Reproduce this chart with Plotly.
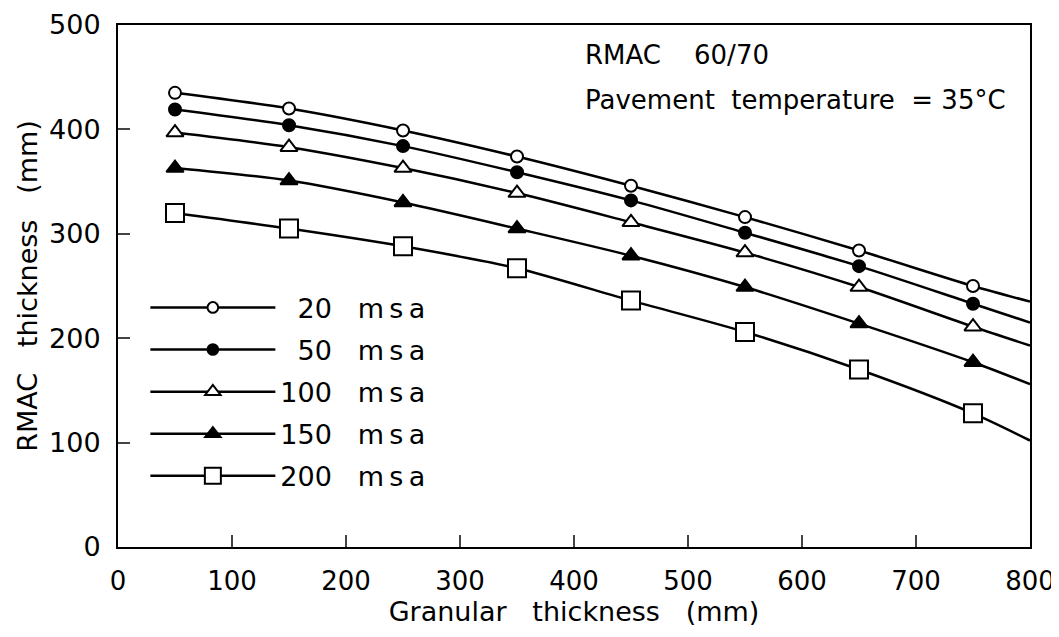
import plotly.graph_objects as go

# Granular thickness (mm) at marked points, plus curve end at 800
granular = [50, 150, 250, 350, 450, 550, 650, 750, 800]

rmac_20 = [435, 420, 399, 374, 346, 316, 284, 250, 235]
rmac_50 = [419, 404, 384, 359, 332, 301, 269, 233, 215]
rmac_100 = [397, 383, 363, 339, 311, 282, 249, 211, 193]
rmac_150 = [363, 351, 330, 305, 279, 249, 214, 177, 156]
rmac_200 = [320, 305, 288, 267, 236, 206, 170, 128, 102]

series_names = ["\u200720   m\u2009s\u2009a", "\u200750   m\u2009s\u2009a",
                "100   m\u2009s\u2009a", "150   m\u2009s\u2009a", "200   m\u2009s\u2009a"]
series_values = [rmac_20, rmac_50, rmac_100, rmac_150, rmac_200]
symbols = ["circle", "circle", "triangle-up", "triangle-up", "square"]
fills = ["white", "black", "white", "black", "white"]
sizes = [12, 12, 15, 15, 18]

x_ticks = [0, 100, 200, 300, 400, 500, 600, 700, 800]
y_ticks = [0, 100, 200, 300, 400, 500]

FONT = "DejaVu Sans"

fig = go.Figure()
for name, vals, sym, fill, sz in zip(series_names, series_values, symbols, fills, sizes):
    n = len(vals)
    fig.add_trace(go.Scatter(
        x=granular, y=vals, name=name, legendgroup=name,
        mode="lines+markers",
        line=dict(color="black", width=2.5, shape="spline", smoothing=0.8),
        marker=dict(symbol=sym, color=fill, size=[sz] * (n - 1) + [0], opacity=1,
                    line=dict(color="black", width=2)),
    ))

fig.add_annotation(x=0.51, y=0.942, xref="paper", yref="paper", xanchor="left",
                   yanchor="middle", showarrow=False, text="RMAC    60/70",
                   font=dict(family=FONT, size=26, color="black"))
fig.add_annotation(x=0.51, y=0.856, xref="paper", yref="paper", xanchor="left",
                   yanchor="middle", showarrow=False,
                   text="Pavement  temperature  = 35°C",
                   font=dict(family=FONT, size=26, color="black"))

fig.update_layout(
    width=1059, height=637,
    margin=dict(l=110, r=37, t=17, b=98),
    paper_bgcolor="white", plot_bgcolor="white",
    font=dict(family=FONT, size=26, color="black"),
    showlegend=True,
    legend=dict(x=0.03, y=0.505, xanchor="left", yanchor="top",
                bgcolor="rgba(0,0,0,0)", font=dict(size=27),
                tracegroupgap=4, itemwidth=125),
    xaxis=dict(range=[0, 800], tickvals=x_ticks,
               ticks="inside", ticklen=12, ticklabeloverflow="allow",
               tickwidth=1.5, showline=True, linecolor="black", linewidth=2,
               mirror=True, showgrid=False, zeroline=False, automargin=False,
               title=dict(text="Granular   thickness   (mm)", standoff=2,
                          font=dict(size=27)),
               tickfont=dict(size=26), ticklabelstandoff=10),
    yaxis=dict(range=[0, 500], tickvals=y_ticks, ticks="inside", ticklen=12,
               tickwidth=1.5, showline=True, linecolor="black", linewidth=2,
               mirror=True, showgrid=False, zeroline=False, automargin=False,
               ticklabeloverflow="allow",
               title=dict(text="RMAC   thickness   (mm)", standoff=4,
                          font=dict(size=27)),
               tickfont=dict(size=27), ticklabelstandoff=10),
)

fig.write_html("out.html")
